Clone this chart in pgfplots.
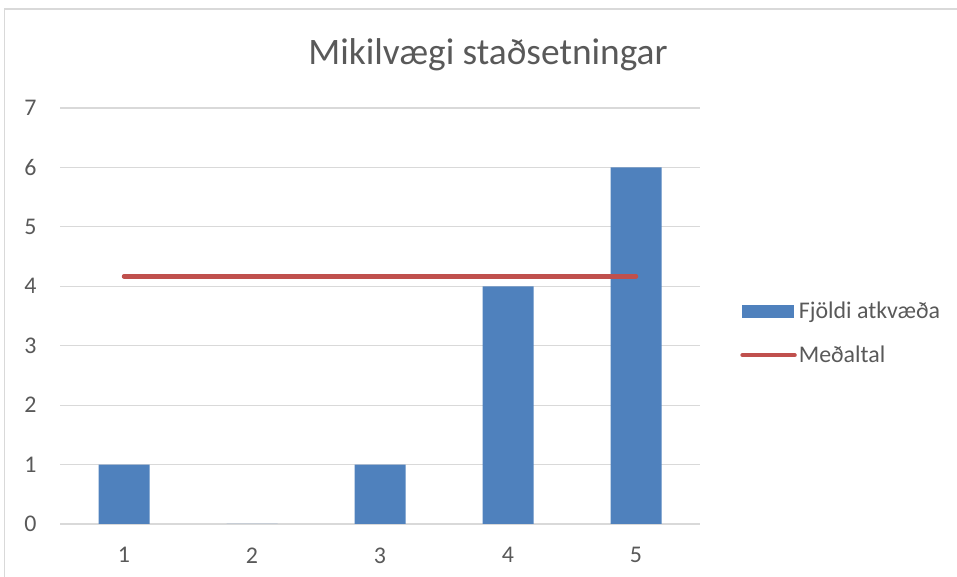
\documentclass[border=0pt]{standalone}
\usepackage{pgfplots}
\pgfplotsset{compat=1.18}
\usepackage{fontspec}
\setmainfont{Carlito}
\definecolor{barblue}{HTML}{4F81BD}
\definecolor{linered}{HTML}{C0504D}
\definecolor{txt}{HTML}{595959}
\definecolor{gridc}{HTML}{D9D9D9}
\begin{document}
\begin{tikzpicture}[x=1bp,y=1bp]
\useasboundingbox (0,0) rectangle (957,577);
\draw[color=gridc, line width=1.2bp] (4.5,-5) -- (4.5,568) -- (970,568);
\node[font=\fontsize{37.5}{44}\selectfont, text=txt] at (488,522) {Mikilvægi staðsetningar};
\begin{axis}[
  at={(60bp,53bp)}, anchor=south west,
  scale only axis, width=640bp, height=416bp,
  xmin=0.5, xmax=5.5, ymin=0, ymax=7,
  xtick={1,2,3,4,5}, ytick={0,1,2,3,4,5,6,7},
  ymajorgrids, grid style={gridc, line width=1.2bp},
  axis line style={draw=none},
  major tick length=0pt,
  tick label style={font=\fontsize{24}{28}\selectfont, text=txt},
  /pgf/number format/assume math mode=true,
  yticklabel style={xshift=-20bp},
  xticklabel style={yshift=-20bp},
  legend style={at={(1.058,0.459)}, anchor=west, draw=none, fill=none,
    font=\fontsize{24}{28}\selectfont, text=txt, row sep=22bp,
    nodes={inner xsep=2bp}},
  legend cell align=left,
]
\addplot[ybar, bar width=51bp, bar shift=0pt, fill=barblue, draw=none,
  legend image code/.code={\fill[barblue] (0bp,-6.5bp) rectangle (52bp,6.5bp);}]
  coordinates {(1,1) (2,0) (3,1) (4,4) (5,6)};
\addlegendentry{Fjöldi atkvæða}
\addplot[linered, line width=4.5bp, line cap=round,
  legend image code/.code={\draw[linered, line width=4.5bp, line cap=round] (1bp,0bp) -- (53bp,0bp);}]
  coordinates {(1,4.1667) (5,4.1667)};
\addlegendentry{Meðaltal}
\end{axis}
\end{tikzpicture}
\end{document}
